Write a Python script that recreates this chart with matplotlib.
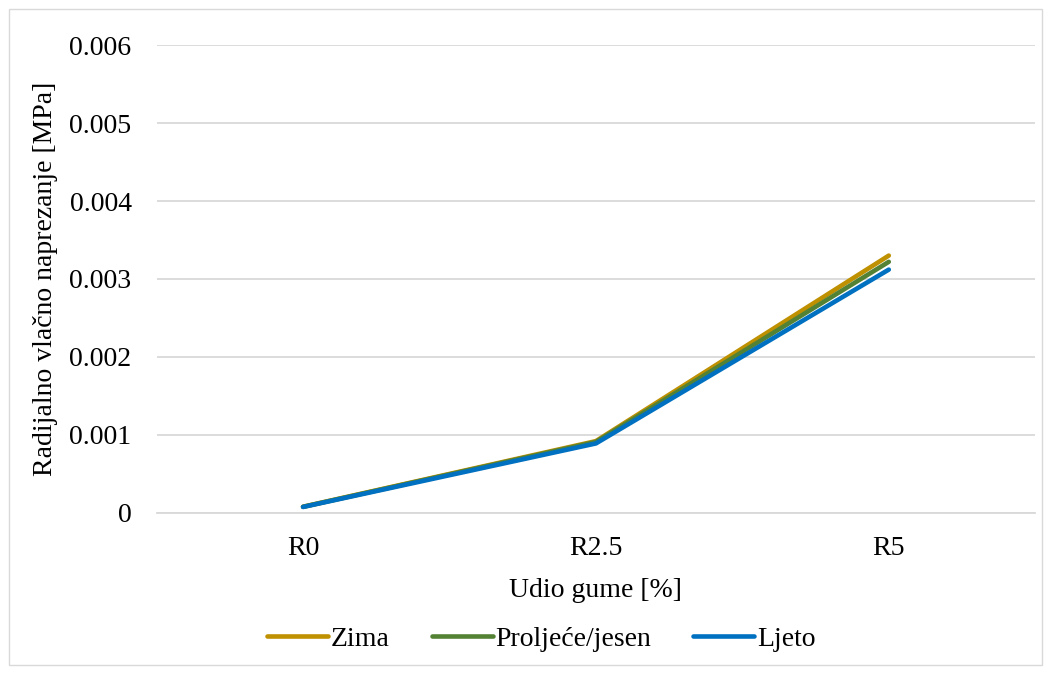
import matplotlib
matplotlib.use("Agg")
import matplotlib.pyplot as plt
from matplotlib.patches import Rectangle

categories = ["R0", "R2.5", "R5"]
zima = [0.000078, 0.00092, 0.0033]
proljece = [0.000077, 0.00091, 0.00322]
ljeto = [0.000075, 0.00089, 0.00312]
series_names = ["Zima", "Proljeće/jesen", "Ljeto"]
colors = ["#BF9000", "#548235", "#0070C0"]
yticks = [0, 0.001, 0.002, 0.003, 0.004, 0.005, 0.006]
ytick_labels = ["0", "0.001", "0.002", "0.003", "0.004", "0.005", "0.006"]

plt.rcParams['font.family'] = ['Liberation Serif', 'DejaVu Serif']
FS = 20

fig = plt.figure(figsize=(10.51, 6.73), dpi=100)
ax = fig.add_axes([0.149, 0.238, 0.836, 0.695])

x = list(range(len(categories)))
for vals, name, c in zip([zima, proljece, ljeto], series_names, colors):
    ax.plot(x, vals, color=c, lw=3.3, label=name, solid_capstyle='round')

ax.set_xlim(-0.5, 2.5)
ax.set_ylim(0, 0.006)
ax.set_xticks(x)
ax.set_xticklabels(categories, fontsize=FS)
ax.set_yticks(yticks)
ax.set_yticklabels(ytick_labels, fontsize=FS)
ax.tick_params(axis='y', length=0, pad=18)
ax.tick_params(axis='x', length=0, pad=17)
ax.grid(axis='y', color='#D9D9D9', lw=1.3)
ax.set_axisbelow(True)
for s in ['top', 'right', 'left']:
    ax.spines[s].set_visible(False)
ax.spines['bottom'].set_color('#D9D9D9')
ax.spines['bottom'].set_linewidth(1.3)

ax.set_xlabel("Udio gume [%]", fontsize=FS, labelpad=12)
ax.set_ylabel("Radijalno vlačno naprezanje [MPa]", fontsize=FS, labelpad=8)

fig.legend(loc='center', bbox_to_anchor=(0.515, 0.05), ncol=3, frameon=False,
           fontsize=FS, handlelength=2.2, handletextpad=0.1, columnspacing=1.5,
           bbox_transform=fig.transFigure)

fig.patches.append(Rectangle((0.009, 0.012), 0.982, 0.975, transform=fig.transFigure,
                             fill=False, edgecolor='#D9D9D9', lw=1))

fig.savefig("out.png", dpi=100)
